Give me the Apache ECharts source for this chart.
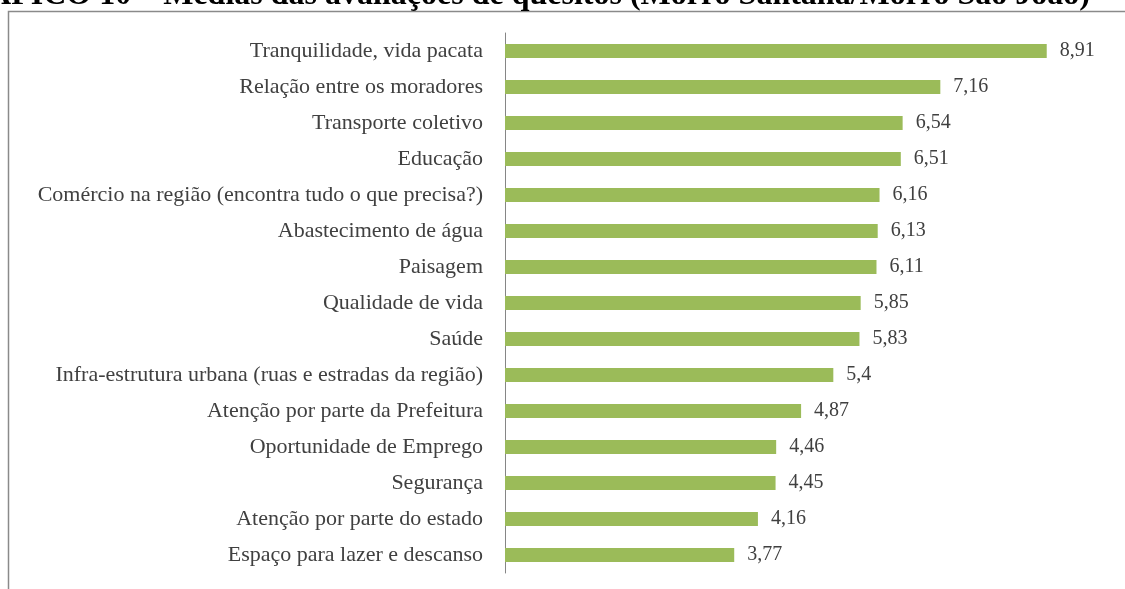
<!DOCTYPE html>
<html>
<head>
<meta charset="utf-8">
<script src="https://cdn.jsdelivr.net/npm/echarts@6/dist/echarts.min.js"></script>
<style>html,body{margin:0;padding:0;background:#fff;}#c{width:1125px;height:589px;}</style>
</head>
<body>
<div id="c"></div>
<script>
const titleText = 'GRÁFICO 10 – Médias das avaliações de quesitos (Morro Santana/Morro São João)';
const categories = [
  'Tranquilidade, vida pacata',
  'Relação entre os moradores',
  'Transporte coletivo',
  'Educação',
  'Comércio na região (encontra tudo o que precisa?)',
  'Abastecimento de água',
  'Paisagem',
  'Qualidade de vida',
  'Saúde',
  'Infra-estrutura urbana (ruas e estradas da região)',
  'Atenção por parte da Prefeitura',
  'Oportunidade de Emprego',
  'Segurança',
  'Atenção por parte do estado',
  'Espaço para lazer e descanso'
];
const values = [8.91, 7.16, 6.54, 6.51, 6.16, 6.13, 6.11, 5.85, 5.83, 5.4, 4.87, 4.46, 4.45, 4.16, 3.77];

const chart = echarts.init(document.getElementById('c'), null, {renderer: 'canvas'});
const font = '"Liberation Serif", "Times New Roman", serif';
chart.setOption({
  animation: false,
  backgroundColor: '#ffffff',
  graphic: [
    {type: 'rect', shape: {x: 8.5, y: 11.5, width: 1200, height: 700},
     style: {fill: 'none', stroke: '#8a8a8a', lineWidth: 1.5}, z: 0},
    {type: 'text', x: 1090, y: 12,
     style: {text: titleText, textAlign: 'right', textVerticalAlign: 'bottom',
             font: 'bold 32px ' + font, fill: '#000'}}
  ],
  grid: {left: 505, top: 33, height: 540, width: 608, containLabel: false},
  xAxis: {type: 'value', min: 0, max: 10, show: false},
  yAxis: {
    type: 'category', inverse: true, data: categories,
    axisLine: {show: true, lineStyle: {color: '#868686', width: 1}},
    axisTick: {show: false},
    axisLabel: {margin: 22, fontFamily: font, fontSize: 22, color: '#404040'}
  },
  series: [{
    type: 'bar', data: values, barWidth: 14,
    itemStyle: {color: '#9BBB59'},
    label: {show: true, position: 'right', distance: 13,
            fontFamily: font, fontSize: 20, color: '#404040',
            formatter: p => String(p.value).replace('.', ',')}
  }]
});
</script>
</body>
</html>
